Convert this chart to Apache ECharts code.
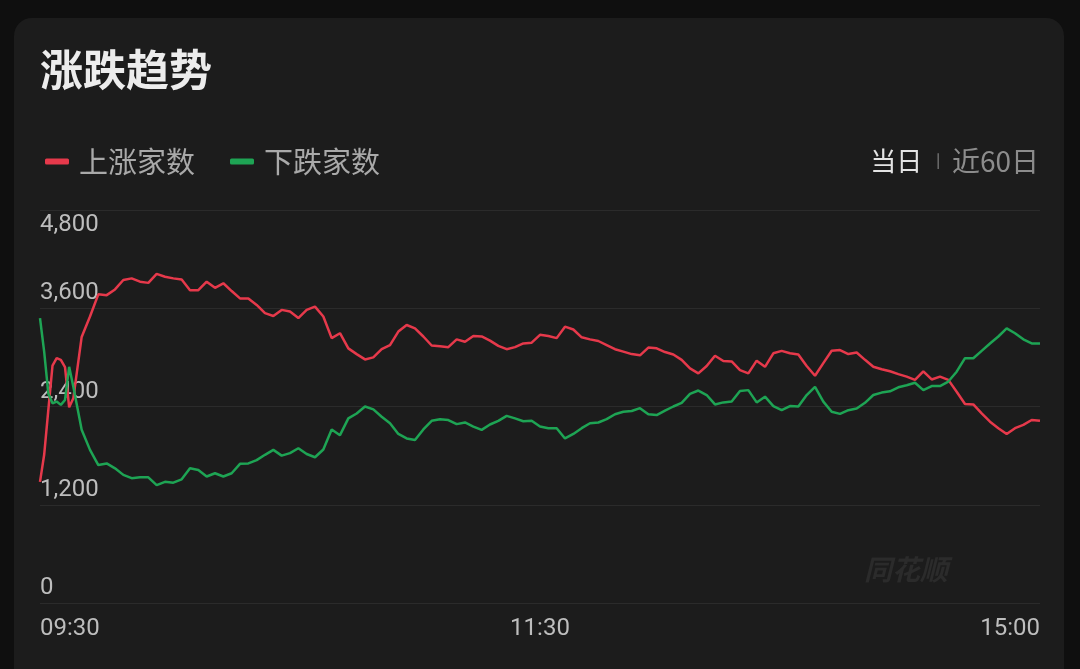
<!DOCTYPE html>
<html>
<head>
<meta charset="utf-8">
<script src="https://cdn.jsdelivr.net/npm/echarts@6/dist/echarts.min.js"></script>
<style>
html, body { margin: 0; padding: 0; width: 1080px; height: 669px; background: #0f0f0f; overflow: hidden; }
.card { position: absolute; left: 14px; top: 18px; width: 1050px; height: 690px; background: #1c1c1c; border-radius: 18px; }
#chart { position: absolute; left: 0; top: 0; width: 1080px; height: 669px; }
</style>
</head>
<body>
<div class="card"></div>
<div id="chart"></div>
<script>
// minutes since 09:30 (trading time, lunch break removed)
const minutes = [0, 1, 2, 3, 4, 5, 6, 7, 8,
  10, 12, 14, 16, 18, 20, 22, 24, 26, 28, 30, 32, 34, 36, 38, 40, 42, 44, 46, 48,
  50, 52, 54, 56, 58, 60, 62, 64, 66, 68, 70, 72, 74, 76, 78, 80, 82, 84, 86, 88,
  90, 92, 94, 96, 98, 100, 102, 104, 106, 108, 110, 112, 114, 116, 118, 120,
  122, 124, 126, 128, 130, 132, 134, 136, 138, 140, 142, 144, 146, 148, 150,
  152, 154, 156, 158, 160, 162, 164, 166, 168, 170, 172, 174, 176, 178, 180,
  182, 184, 186, 188, 190, 192, 194, 196, 198, 200, 202, 204, 206, 208, 210,
  212, 214, 216, 218, 220, 222, 224, 226, 228, 230, 232, 234, 236, 238, 240]

const upCount = [1480, 1810, 2360, 2900, 2990, 2970, 2880, 2390, 2500,
  3250, 3500, 3770, 3760, 3830, 3945, 3965, 3925, 3910, 4020, 3985, 3965, 3950, 3820, 3820, 3925, 3850, 3905, 3810, 3720,
  3720, 3640, 3540, 3505, 3580, 3560, 3480, 3580, 3620, 3500, 3235, 3295, 3110, 3040, 2975, 3000, 3100, 3150, 3315, 3395,
  3355, 3255, 3145, 3135, 3125, 3220, 3190, 3260, 3255, 3205, 3140, 3100, 3125, 3170, 3180, 3275,
  3260, 3235, 3375, 3340, 3245, 3220, 3200, 3150, 3100, 3070, 3040, 3025, 3120, 3110, 3065,
  3035, 2970, 2865, 2805, 2895, 3020, 2955, 2950, 2845, 2805, 2960, 2885, 3050, 3080, 3050,
  3035, 2895, 2775, 2930, 3080, 3090, 3040, 3060, 2970, 2885, 2855, 2830, 2795, 2765, 2725,
  2830, 2730, 2765, 2725, 2580, 2430, 2425, 2315, 2215, 2135, 2065, 2135, 2175, 2235, 2225]

const downCount = [3480, 3070, 2560, 2440, 2460, 2420, 2480, 2885, 2640,
  2115, 1870, 1685, 1705, 1645, 1565, 1525, 1535, 1535, 1440, 1480, 1470, 1510, 1645, 1625, 1545, 1585, 1545, 1585, 1700,
  1705, 1745, 1810, 1870, 1800, 1830, 1890, 1820, 1780, 1875, 2120, 2050, 2255, 2315, 2400, 2365, 2275, 2195, 2065, 2010,
  1990, 2120, 2225, 2245, 2235, 2185, 2205, 2155, 2115, 2180, 2225, 2285, 2255, 2220, 2225, 2155,
  2135, 2135, 2010, 2065, 2135, 2195, 2205, 2245, 2305, 2335, 2345, 2380, 2305, 2295, 2350,
  2400, 2445, 2555, 2595, 2540, 2425, 2450, 2460, 2590, 2600, 2450, 2520, 2405, 2355, 2405,
  2400, 2540, 2640, 2460, 2335, 2310, 2355, 2375, 2445, 2540, 2570, 2585, 2635, 2660, 2690,
  2600, 2650, 2650, 2705, 2825, 2990, 2990, 3080, 3170, 3255, 3355, 3295, 3220, 3170, 3170]

const timeTicks = [0, 120, 240]
const timeLabels = ['09:30', '11:30', '15:00']
const yMax = 4800
const yStep = 1200

const fmtNum = v => String(v).replace(/\B(?=(\d{3})+(?!\d))/g, ',')

const chart = echarts.init(document.getElementById('chart'))

const option = {
  backgroundColor: 'transparent',
  animation: false,
  title: [
    {
      text: '涨跌趋势',
      left: 35,
      top: 43,
      textStyle: {
        color: '#ececec',
        fontSize: 43,
        fontWeight: 'bold',
        fontFamily: 'Noto Sans CJK SC'
      }
    },
    {
      text: '{a|当日}{s||}{b|近60日}',
      right: 36,
      top: 142,
      textStyle: {
        fontWeight: 'normal',
        rich: {
          a: { color: '#e4e4e4', fontSize: 26, fontWeight: 'normal', fontFamily: 'Noto Sans CJK SC', padding: [0, 14, 0, 0] },
          s: { color: '#9a9a9a', fontSize: 14, fontWeight: 'normal', fontFamily: 'Noto Sans CJK SC', verticalAlign: 'middle', padding: [0, 12, 2, 0] },
          b: { color: '#8c8c8c', fontSize: 28, fontWeight: 'normal', fontFamily: 'Noto Sans CJK SC' }
        }
      }
    }
  ],
  legend: {
    left: 40,
    top: 142,
    icon: 'roundRect',
    itemWidth: 24,
    itemHeight: 6,
    itemGap: 35,
    textStyle: {
      color: '#a9a9a9',
      fontSize: 29,
      fontFamily: 'Noto Sans CJK SC',
      padding: [0, 0, 0, 5]
    },
    data: ['上涨家数', '下跌家数']
  },
  graphic: [
    {
      type: 'text',
      left: 864,
      top: 555,
      style: {
        text: '同花顺',
        fill: '#2b2b2b',
        fontSize: 28,
        fontStyle: 'italic',
        fontWeight: 'bold',
        fontFamily: 'Noto Sans CJK SC'
      }
    }
  ],
  grid: {
    left: 40,
    right: 40,
    top: 210,
    bottom: 66
  },
  xAxis: {
    type: 'value',
    min: 0,
    max: 240,
    interval: 120,
    axisLine: { show: false },
    axisTick: { show: false },
    splitLine: { show: false },
    axisLabel: {
      color: '#bdbdbd',
      fontSize: 24,
      fontFamily: 'Roboto',
      margin: 14,
      alignMinLabel: 'left',
      alignMaxLabel: 'right',
      formatter: v => timeLabels[timeTicks.indexOf(v)] || ''
    }
  },
  yAxis: {
    type: 'value',
    min: 0,
    max: yMax,
    interval: yStep,
    axisLine: { show: false },
    axisTick: { show: false },
    splitLine: { lineStyle: { color: '#2b2b2b', width: 1 } },
    axisLabel: {
      inside: true,
      margin: 0,
      verticalAlign: 'middle',
      formatter: v => v === yMax ? '{g| }\n{v|' + fmtNum(v) + '}' : '{v|' + fmtNum(v) + '}\n{g| }',
      rich: {
        v: { color: '#bdbdbd', fontSize: 24, fontFamily: 'Roboto', lineHeight: 20 },
        g: { fontSize: 10, lineHeight: 30 }
      }
    }
  },
  series: [
    {
      name: '上涨家数',
      type: 'line',
      showSymbol: false,
      color: '#e6394b',
      lineStyle: { width: 2.5, color: '#e6394b' },
      data: minutes.map((m, i) => [m, upCount[i]])
    },
    {
      name: '下跌家数',
      type: 'line',
      showSymbol: false,
      color: '#1ea454',
      lineStyle: { width: 2.5, color: '#1ea454' },
      data: minutes.map((m, i) => [m, downCount[i]])
    }
  ]
}

chart.setOption(option)
</script>
</body>
</html>
